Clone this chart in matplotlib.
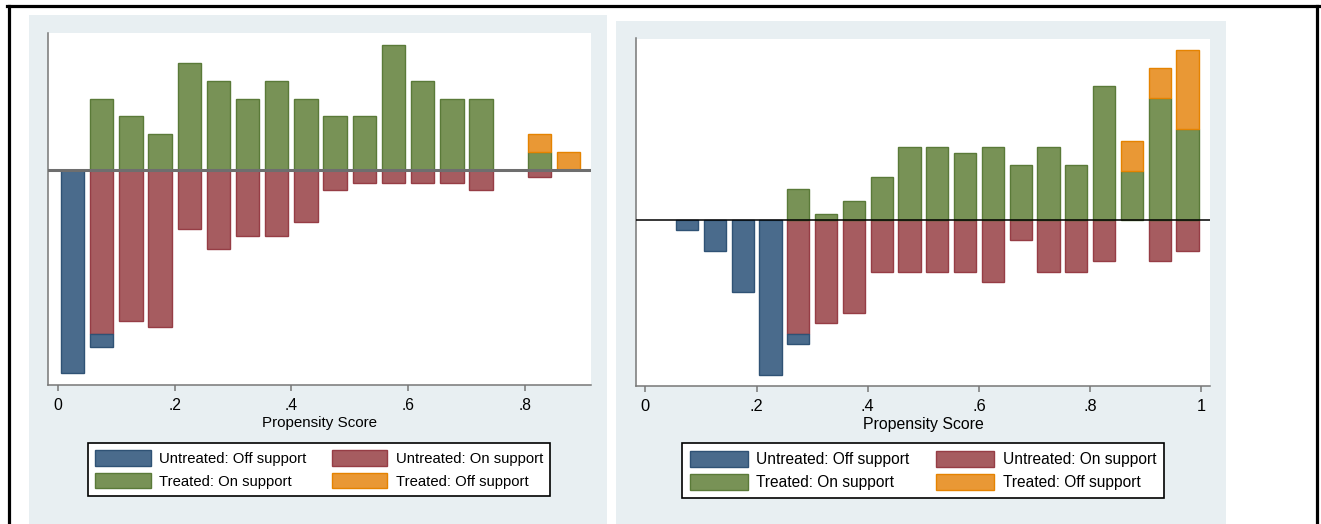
import numpy as np
import matplotlib
matplotlib.use("Agg")
import matplotlib.pyplot as plt
from matplotlib.patches import Rectangle, Patch
from matplotlib.lines import Line2D

plt.rcParams['font.family'] = ['Liberation Sans', 'DejaVu Sans']

# bin centres (width .05), counts per bin
centers_left = np.arange(18) * 0.05 + 0.025
untreated_off_left = [31, 2, 0, 0, 0, 0, 0, 0, 0, 0, 0, 0, 0, 0, 0, 0, 0, 0]
untreated_on_left = [0, 25, 23, 24, 9, 12, 10, 10, 8, 3, 2, 2, 2, 2, 3, 0, 1, 0]
treated_on_left = [0, 4, 3, 2, 6, 5, 4, 5, 4, 3, 3, 7, 5, 4, 4, 0, 1, 0]
treated_off_left = [0, 0, 0, 0, 0, 0, 0, 0, 0, 0, 0, 0, 0, 0, 0, 0, 1, 1]

centers_right = np.arange(20) * 0.05 + 0.025
untreated_off_right = [0, 1, 3, 7, 15, 1, 0, 0, 0, 0, 0, 0, 0, 0, 0, 0, 0, 0, 0, 0]
untreated_on_right = [0, 0, 0, 0, 0, 11, 10, 9, 5, 5, 5, 5, 6, 2, 5, 5, 4, 0, 4, 3]
treated_on_right = [0, 0, 0, 0, 0, 5, 1, 3, 7, 12, 12, 11, 12, 9, 12, 9, 22, 8, 20, 15]
treated_off_right = [0, 0, 0, 0, 0, 0, 0, 0, 0, 0, 0, 0, 0, 0, 0, 0, 0, 5, 5, 13]

labels = ["Untreated: Off support", "Untreated: On support",
          "Treated: On support", "Treated: Off support"]
fills = ["#4a6b8c", "#a65c60", "#789256", "#e99835"]
edges = ["#2f5275", "#963d45", "#5a7a38", "#e58300"]
tick_vals_left = [0, 0.2, 0.4, 0.6, 0.8]
tick_labels_left = ["0", ".2", ".4", ".6", ".8"]
tick_vals_right = [0, 0.2, 0.4, 0.6, 0.8, 1.0]
tick_labels_right = ["0", ".2", ".4", ".6", ".8", "1"]

W, H = 1321, 524
BG = "#e8eff2"

fig = plt.figure(figsize=(W / 100, H / 100), dpi=100)
fig.patch.set_facecolor("white")


def px_rect(x0, y0, x1, y1):
    return [x0 / W, 1 - y1 / H, (x1 - x0) / W, (y1 - y0) / H]


# panel backgrounds
for x0, y0, x1, y1 in [(29, 15, 607, 524), (615.5, 20.7, 1226, 524)]:
    r = px_rect(x0, y0, x1, y1)
    fig.patches.append(Rectangle((r[0], r[1]), r[2], r[3], transform=fig.transFigure,
                                 facecolor=BG, edgecolor="none", zorder=-5))

# outer black frame
lw = 2.3
fig.add_artist(Line2D([7 / W, 1318.5 / W], [1 - 6 / H, 1 - 6 / H], color="black", lw=lw))
fig.add_artist(Line2D([8.5 / W, 8.5 / W], [0, 1 - 6 / H], color="black", lw=lw))
fig.add_artist(Line2D([1317 / W, 1317 / W], [0, 1 - 6 / H], color="black", lw=lw))


def draw_panel(rect, centers, uoff, uon, ton, toff, xlim, ylim, ticks, ticklabels,
               fs, zero_color, zero_lw, leg_center):
    ax = fig.add_axes(rect)
    ax.set_facecolor("white")
    uoff = np.array(uoff, float)
    uon = np.array(uon, float)
    ton = np.array(ton, float)
    toff = np.array(toff, float)
    n_u = uoff.sum() + uon.sum()
    n_t = ton.sum() + toff.sum()
    w = 0.04
    kw = dict(width=w, linewidth=1.0)
    # untreated below zero: on support next to the axis, off support beneath
    ax.bar(centers, -uon / n_u, color=fills[1], edgecolor=edges[1], **kw)
    ax.bar(centers, -uoff / n_u, bottom=-uon / n_u, color=fills[0], edgecolor=edges[0], **kw)
    ax.bar(centers, ton / n_t, color=fills[2], edgecolor=edges[2], **kw)
    ax.bar(centers, toff / n_t, bottom=ton / n_t, color=fills[3], edgecolor=edges[3], **kw)
    # hide zero-height bars' outlines
    for p in ax.patches:
        if p.get_height() == 0:
            p.set_visible(False)
    ax.axhline(0, color=zero_color, lw=zero_lw, zorder=5)
    ax.set_xlim(*xlim)
    ax.set_ylim(*ylim)
    ax.set_yticks([])
    ax.set_xticks(ticks)
    ax.set_xticklabels(ticklabels, fontsize=fs + 0.6)
    ax.tick_params(axis="x", length=4.0, width=1.1, color="#777777", pad=6)
    for s in ["top", "right"]:
        ax.spines[s].set_visible(False)
    for s in ["left", "bottom"]:
        ax.spines[s].set_color("#777777")
        ax.spines[s].set_linewidth(1.1)
    ax.set_xlabel("Propensity Score", fontsize=fs + 0.2, labelpad=1.5)

    handles = [Patch(facecolor=fills[i], edgecolor=edges[i], linewidth=1.0) for i in [0, 2, 1, 3]]
    names = [labels[i] for i in [0, 2, 1, 3]]
    leg = fig.legend(handles, names, ncol=2, loc="center",
                     bbox_to_anchor=(leg_center[0] / W, 1 - leg_center[1] / H),
                     fontsize=fs, frameon=True, fancybox=False, framealpha=1,
                     handlelength=3.75, handleheight=1.22, handletextpad=0.55,
                     columnspacing=1.7, labelspacing=0.45, borderpad=0.5)
    leg.get_frame().set_edgecolor("black")
    leg.get_frame().set_linewidth(1.2)
    leg.get_frame().set_facecolor("white")
    return ax


draw_panel(px_rect(47.5, 33.4, 591, 384.6), centers_left,
           untreated_off_left, untreated_on_left, treated_on_left, treated_off_left,
           (-0.018, 0.9135), (-0.1937, 0.1233), tick_vals_left, tick_labels_left,
           10.7, "#6e6e6e", 2.2, (319, 469.5))

draw_panel(px_rect(636, 38.5, 1210, 385.6), centers_right,
           untreated_off_right, untreated_on_right, treated_on_right, treated_off_right,
           (-0.0169, 1.0155), (-0.1508, 0.1647), tick_vals_right, tick_labels_right,
           11.2, "black", 1.1, (923, 470.5))

fig.savefig("out.png", dpi=100, facecolor="white")
